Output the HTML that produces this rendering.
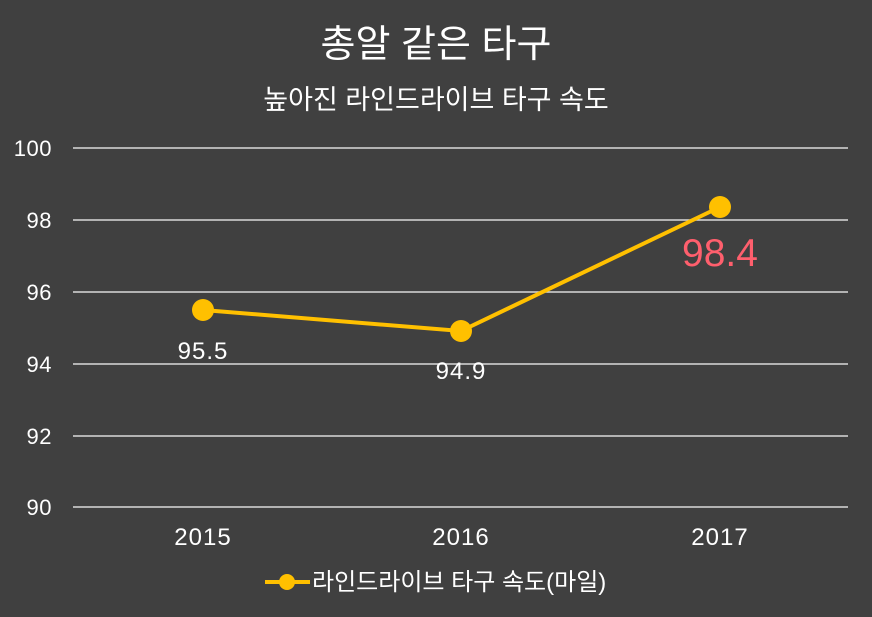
<!DOCTYPE html>
<html><head><meta charset="utf-8"><style>
body{margin:0;background:#404040;}
svg{display:block;font-family:"Liberation Sans","Noto Sans CJK KR",sans-serif;}
</style></head><body>
<svg width="872" height="617" viewBox="0 0 872 617">
<rect width="872" height="617" fill="#404040"/>
<text x="436" y="57" fill="#fff" font-size="38" text-anchor="middle">총알 같은 타구</text>
<text x="436" y="109" fill="#fff" font-size="27" text-anchor="middle">높아진 라인드라이브 타구 속도</text>
<g stroke="#d9d9d9" stroke-width="1.5">
<line x1="73" x2="848" y1="148" y2="148"/>
<line x1="73" x2="848" y1="220" y2="220"/>
<line x1="73" x2="848" y1="292" y2="292"/>
<line x1="73" x2="848" y1="364" y2="364"/>
<line x1="73" x2="848" y1="436" y2="436"/>
<line x1="73" x2="848" y1="507" y2="507"/>
</g>
<g fill="#fff" font-size="22" text-anchor="end" letter-spacing="0.5">
<text x="52" y="156">100</text>
<text x="52" y="228">98</text>
<text x="52" y="300">96</text>
<text x="52" y="372">94</text>
<text x="52" y="444">92</text>
<text x="52" y="515">90</text>
</g>
<g fill="#fff" font-size="24" text-anchor="middle" letter-spacing="1">
<text x="203" y="545">2015</text>
<text x="461" y="545">2016</text>
<text x="720" y="545">2017</text>
<text x="203" y="359">95.5</text>
<text x="461" y="379">94.9</text>
</g>
<text x="720" y="266" fill="#ff5f6d" font-size="39" text-anchor="middle">98.4</text>
<polyline points="203,310 461,331 720,207" fill="none" stroke="#ffc000" stroke-width="4"/>
<g fill="#ffc000">
<circle cx="203" cy="310" r="11"/>
<circle cx="461" cy="331" r="11"/>
<circle cx="720" cy="207" r="11"/>
<line x1="265" x2="310" y1="582" y2="582" stroke="#ffc000" stroke-width="4"/>
<circle cx="287" cy="582" r="8"/>
</g>
<text x="312" y="590" fill="#fff" font-size="24">라인드라이브 타구 속도(마일)</text>
</svg>
</body></html>
